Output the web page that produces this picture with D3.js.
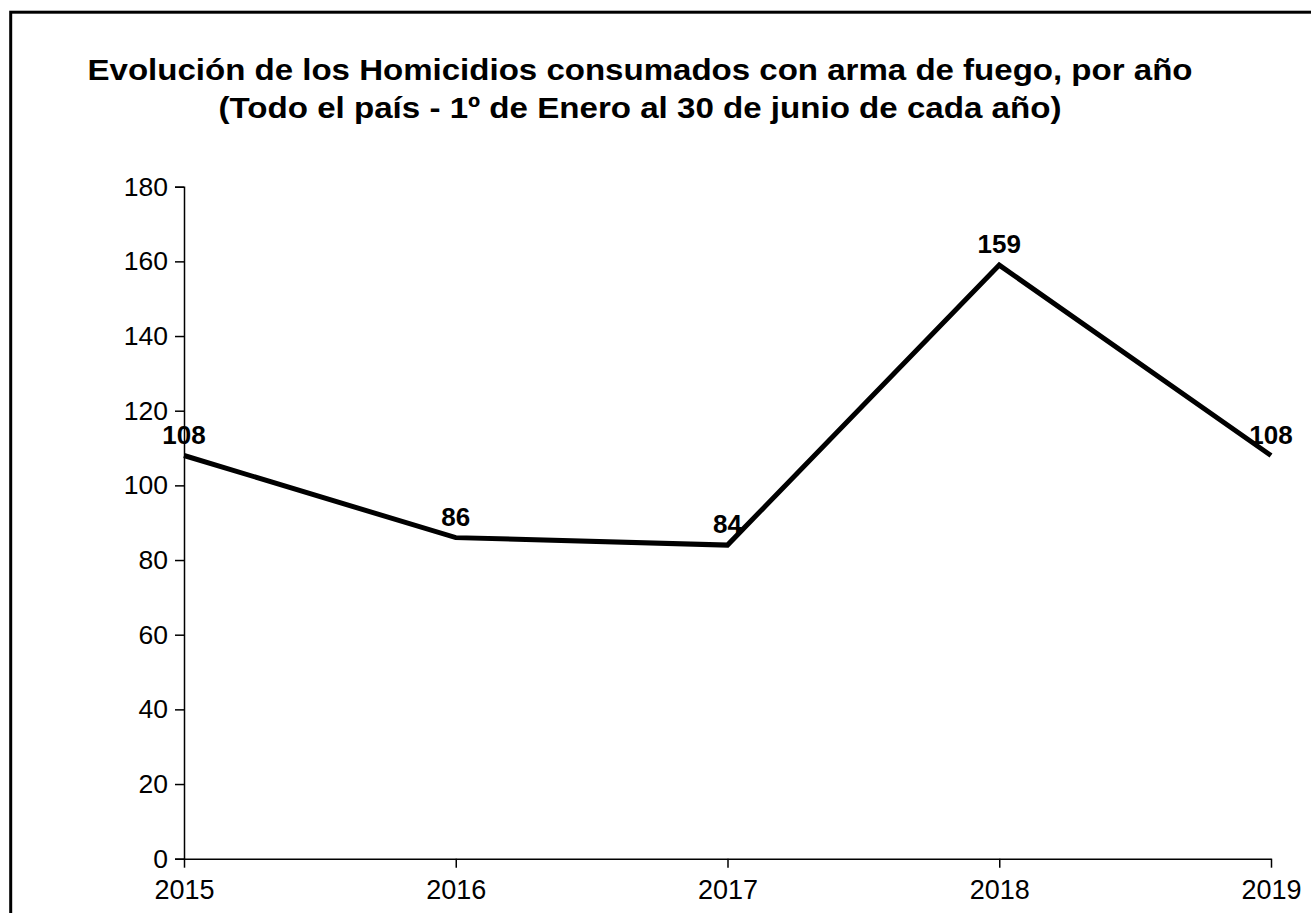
<!DOCTYPE html>
<html>
<head>
<meta charset="utf-8">
<script src="https://cdn.jsdelivr.net/npm/d3@7"></script>
<style>
  html, body { margin: 0; padding: 0; background: #fff; }
  svg { display: block; }
  text { font-family: Arial, "Liberation Sans", sans-serif; fill: #000; }
</style>
</head>
<body>
<svg id="chart" width="1311" height="913"></svg>
<script>
const years = ["2015", "2016", "2017", "2018", "2019"];
const values = [108, 86, 84, 159, 108];
const yTicks = [0, 20, 40, 60, 80, 100, 120, 140, 160, 180];
const titleLines = [
  "Evolución de los Homicidios consumados con arma de fuego, por año",
  "(Todo el país - 1º de Enero al 30 de junio de cada año)"
];
const titleWidths = [1105, 843];

const svg = d3.select("#chart");

// outer frame (extends beyond the visible area at right and bottom)
svg.append("rect")
  .attr("x", 10.7).attr("y", 12.2)
  .attr("width", 1320).attr("height", 920)
  .attr("fill", "none").attr("stroke", "#000").attr("stroke-width", 3);

// title
svg.append("g").selectAll("text").data(titleLines).join("text")
  .attr("x", 640).attr("y", (d, i) => 80 + i * 38)
  .attr("text-anchor", "middle")
  .attr("font-size", 30).attr("font-weight", "bold")
  .attr("textLength", (d, i) => titleWidths[i])
  .attr("lengthAdjust", "spacingAndGlyphs")
  .text(d => d);

const x = d3.scalePoint().domain(years).range([184, 1271]);
const y = d3.scaleLinear().domain([0, 180]).range([858.7, 186.7]);

// y axis
const yAxis = svg.append("g").attr("transform", "translate(184,0)")
  .call(d3.axisLeft(y).tickValues(yTicks).tickSize(9).tickPadding(7).tickFormat(d3.format("d")));
yAxis.attr("font-size", null).attr("font-family", null);
yAxis.selectAll("text").attr("font-size", 26.5).attr("fill", "#000");
yAxis.selectAll("line, path").attr("stroke", "#000").attr("stroke-width", 1.5);

// x axis
const xAxis = svg.append("g").attr("transform", "translate(0,858.7)")
  .call(d3.axisBottom(x).tickSize(9).tickPadding(12).tickSizeOuter(0));
xAxis.attr("font-size", null).attr("font-family", null);
xAxis.selectAll("text").attr("font-size", 27).attr("fill", "#000");
xAxis.selectAll("line, path").attr("stroke", "#000").attr("stroke-width", 1.5);

const data = years.map((yr, i) => ({ yr, v: values[i] }));

// line
svg.append("path").datum(data)
  .attr("fill", "none").attr("stroke", "#000").attr("stroke-width", 5)
  .attr("stroke-linejoin", "miter")
  .attr("d", d3.line().x(d => x(d.yr)).y(d => y(d.v)));

// data labels
svg.append("g").selectAll("text").data(data).join("text")
  .attr("x", d => x(d.yr)).attr("y", d => y(d.v) - 12)
  .attr("text-anchor", "middle")
  .attr("font-size", 26).attr("font-weight", "bold")
  .text(d => d.v);
</script>
</body>
</html>
